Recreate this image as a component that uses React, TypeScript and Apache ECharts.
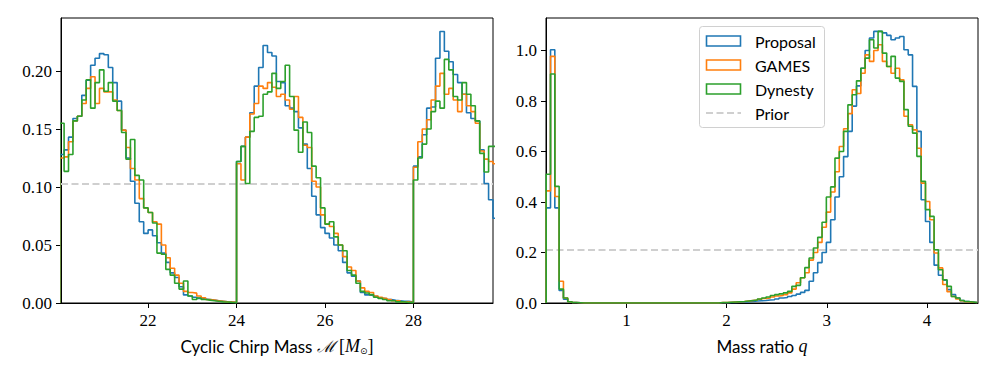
import React, { useEffect, useRef } from 'react';
import * as echarts from 'echarts';

// ---------- Left panel: cyclic chirp mass histograms (bins of 0.1 starting at 20.0) ----------
const MC_START = 20.0;
const MC_WIDTH = 0.1;
const mcProposal = [
  0.128, 0.132, 0.143, 0.159, 0.161, 0.179, 0.192, 0.205, 0.211, 0.215,
  0.214, 0.203, 0.190, 0.174, 0.149, 0.125, 0.105, 0.086, 0.070, 0.060,
  0.063, 0.058, 0.052, 0.043, 0.035, 0.026, 0.022, 0.014, 0.007, 0.006,
  0.005, 0.004, 0.0035, 0.003, 0.0025, 0.002, 0.0015, 0.001, 0.0008, 0.0005,
  0.122, 0.135, 0.143, 0.164, 0.187, 0.203, 0.222, 0.216, 0.213, 0.191,
  0.190, 0.170, 0.168, 0.165, 0.151, 0.137, 0.116, 0.092, 0.076, 0.065,
  0.060, 0.056, 0.050, 0.045, 0.035, 0.026, 0.023, 0.019, 0.009, 0.007,
  0.0066, 0.0057, 0.0043, 0.0037, 0.0029, 0.0023, 0.002, 0.0014, 0.0014, 0.0009,
  0.118, 0.126, 0.145, 0.168, 0.169, 0.211, 0.234, 0.217, 0.208, 0.197,
  0.190, 0.180, 0.164, 0.159, 0.157, 0.132, 0.103, 0.089, 0.073,
];
const mcGames = [
  0.125, 0.126, 0.139, 0.157, 0.161, 0.172, 0.185, 0.195, 0.172, 0.185,
  0.182, 0.182, 0.175, 0.166, 0.149, 0.134, 0.116, 0.106, 0.090, 0.082,
  0.078, 0.070, 0.068, 0.050, 0.039, 0.030, 0.024, 0.017, 0.010, 0.009,
  0.0085, 0.006, 0.0045, 0.003, 0.0025, 0.002, 0.0015, 0.001, 0.0008, 0.0005,
  0.120, 0.106, 0.143, 0.163, 0.172, 0.187, 0.185, 0.190, 0.186, 0.178,
  0.180, 0.175, 0.167, 0.178, 0.160, 0.136, 0.134, 0.105, 0.100, 0.076,
  0.068, 0.066, 0.060, 0.050, 0.040, 0.031, 0.028, 0.019, 0.013, 0.010,
  0.009, 0.006, 0.005, 0.004, 0.003, 0.002, 0.002, 0.001, 0.001, 0.0005,
  0.117, 0.139, 0.150, 0.158, 0.175, 0.187, 0.198, 0.180, 0.185, 0.175,
  0.165, 0.180, 0.170, 0.165, 0.155, 0.131, 0.124, 0.122, 0.120,
];
const mcDynesty = [
  0.155, 0.1135, 0.128, 0.157, 0.161, 0.175, 0.1925, 0.168, 0.190, 0.201,
  0.1825, 0.190, 0.174, 0.166, 0.147, 0.124, 0.141, 0.110, 0.106, 0.082,
  0.078, 0.069, 0.043, 0.042, 0.029, 0.024, 0.017, 0.012, 0.019, 0.006,
  0.003, 0.0043, 0.003, 0.0025, 0.002, 0.0015, 0.001, 0.0008, 0.0005, 0.0003,
  0.122, 0.135, 0.103, 0.148, 0.160, 0.161, 0.180, 0.182, 0.198, 0.185,
  0.191, 0.205, 0.178, 0.149, 0.130, 0.156, 0.147, 0.118, 0.108, 0.082,
  0.068, 0.070, 0.057, 0.050, 0.045, 0.028, 0.024, 0.017, 0.010, 0.0086,
  0.0072, 0.005, 0.004, 0.003, 0.002, 0.002, 0.001, 0.001, 0.0005, 0.0003,
  0.106, 0.125, 0.137, 0.150, 0.165, 0.174, 0.168, 0.210, 0.201, 0.178,
  0.175, 0.190, 0.180, 0.170, 0.157, 0.129, 0.113, 0.135, 0.135,
];
const mcPrior = 0.1026;
const mcRange = [20.03, 29.8];
const mcTicks = [22, 24, 26, 28];
const mcYTicks = [0, 0.05, 0.1, 0.15, 0.2];

// ---------- Right panel: mass ratio histograms (bins of 0.043 starting at 0.2) ----------
const Q_START = 0.2;
const Q_WIDTH = 0.043;
const qProposal = [
  0.377, 1.003, 0.377, 0.050, 0.015, 0.005, 0.002, 0.001, 0, 0,
  0, 0, 0, 0, 0, 0, 0, 0, 0, 0,
  0, 0, 0, 0, 0, 0, 0, 0, 0, 0,
  0, 0, 0, 0, 0, 0, 0, 0, 0, 0,
  0.001, 0.001, 0.002, 0.002, 0.003, 0.004, 0.005, 0.006, 0.008, 0.009,
  0.010, 0.012, 0.013, 0.016, 0.020, 0.022, 0.026, 0.030, 0.035, 0.042,
  0.050, 0.086, 0.120, 0.160, 0.200, 0.240, 0.330, 0.420, 0.500, 0.580,
  0.680, 0.780, 0.860, 0.930, 1.000, 1.050, 1.076, 1.076, 1.070, 1.060,
  1.043, 1.050, 1.056, 1.003, 0.983, 0.858, 0.680, 0.409, 0.323, 0.240,
  0.150, 0.110, 0.090, 0.053, 0.033, 0.020, 0.010, 0.006, 0.004, 0.002,
];
const qGames = [
  0.444, 0.977, 0.422, 0.086, 0.020, 0.005, 0.002, 0.001, 0, 0,
  0, 0, 0, 0, 0, 0, 0, 0, 0, 0,
  0, 0, 0, 0, 0, 0, 0, 0, 0, 0,
  0, 0, 0, 0, 0, 0, 0, 0, 0, 0,
  0.002, 0.002, 0.003, 0.004, 0.005, 0.006, 0.008, 0.010, 0.012, 0.015,
  0.018, 0.020, 0.024, 0.028, 0.030, 0.033, 0.040, 0.055, 0.080, 0.100,
  0.120, 0.170, 0.200, 0.240, 0.300, 0.360, 0.440, 0.520, 0.620, 0.690,
  0.750, 0.845, 0.830, 0.910, 0.983, 0.957, 1.000, 1.023, 0.957, 0.937,
  0.910, 0.930, 0.884, 0.740, 0.706, 0.686, 0.613, 0.475, 0.402, 0.330,
  0.198, 0.139, 0.073, 0.045, 0.026, 0.016, 0.009, 0.005, 0.003, 0.002,
];
const qDynesty = [
  0.510, 0.907, 0.462, 0.055, 0.020, 0.005, 0.002, 0.001, 0, 0,
  0, 0, 0, 0, 0, 0, 0, 0, 0, 0,
  0, 0, 0, 0, 0, 0, 0, 0, 0, 0,
  0, 0, 0, 0, 0, 0, 0, 0, 0, 0,
  0.002, 0.002, 0.003, 0.004, 0.005, 0.006, 0.008, 0.010, 0.012, 0.016,
  0.020, 0.024, 0.030, 0.033, 0.036, 0.040, 0.046, 0.066, 0.070, 0.100,
  0.140, 0.178, 0.218, 0.260, 0.320, 0.420, 0.460, 0.574, 0.600, 0.680,
  0.785, 0.825, 0.880, 0.930, 0.970, 1.043, 1.010, 1.076, 0.990, 0.937,
  0.977, 0.891, 0.878, 0.766, 0.700, 0.673, 0.581, 0.482, 0.370, 0.343,
  0.211, 0.132, 0.092, 0.066, 0.026, 0.020, 0.010, 0.006, 0.004, 0.002,
];
const qPrior = 0.21;
const qRange = [0.198, 4.508];
const qTicks = [1, 2, 3, 4];
const qYTicks = [0, 0.2, 0.4, 0.6, 0.8, 1.0];

const seriesNames = ['Proposal', 'GAMES', 'Dynesty'];
const COLORS = ['#1f77b4', '#ff7f0e', '#2ca02c'];
const PRIOR_COLOR = '#cfcfcf';

const SERIF = 'Liberation Serif';
const SANS = 'Lato';

function stepPoints(start: number, width: number, values: number[]) {
  const pts: number[][] = [[start, 0]];
  values.forEach((v, i) => {
    pts.push([start + i * width, v]);
    pts.push([start + (i + 1) * width, v]);
  });
  pts.push([start + values.length * width, 0]);
  return pts;
}

function histSeries(name: string, idx: number, axis: number, pts: number[][], color: string) {
  return {
    name,
    type: 'line',
    xAxisIndex: axis,
    yAxisIndex: axis,
    data: pts,
    symbol: 'none',
    showSymbol: false,
    clip: true,
    lineStyle: { color, width: 1.6 },
    z: 3 + idx,
  };
}

function priorSeries(axis: number, range: number[], y: number) {
  return {
    name: 'Prior',
    type: 'line',
    xAxisIndex: axis,
    yAxisIndex: axis,
    data: [[range[0], y], [range[1], y]],
    symbol: 'none',
    clip: true,
    lineStyle: { color: PRIOR_COLOR, width: 2, type: [7, 3.5] },
    z: 2,
  };
}

const tickLabelStyle = {
  color: '#000',
  fontFamily: SERIF,
  fontSize: 17,
  fontWeight: 'normal',
  margin: 9,
};

function xAxisCfg(gridIndex: number, range: number[], ticks: number[], name: string, rich: any) {
  return {
    type: 'value',
    gridIndex,
    min: range[0],
    max: range[1],
    splitLine: { show: false },
    axisLine: { show: true, onZero: false, lineStyle: { color: '#000', width: 1 } },
    axisTick: { show: true, customValues: ticks, length: 5, lineStyle: { color: '#000', width: 1 } },
    axisLabel: {
      ...tickLabelStyle,
      customValues: ticks,
      formatter: (v: number) => String(v),
    },
    name,
    nameLocation: 'middle',
    nameGap: 34,
    nameTextStyle: { color: '#000', fontFamily: SANS, rich },
  };
}

function yAxisCfg(gridIndex: number, max: number, ticks: number[], digits: number) {
  return {
    type: 'value',
    gridIndex,
    min: 0,
    max,
    splitLine: { show: false },
    axisLine: { show: true, onZero: false, lineStyle: { color: '#000', width: 1 } },
    axisTick: { show: true, customValues: ticks, length: 5, lineStyle: { color: '#000', width: 1 } },
    axisLabel: {
      ...tickLabelStyle,
      customValues: ticks,
      formatter: (v: number) => v.toFixed(digits),
    },
  };
}

const richBase = {
  a: { fontFamily: SANS, fontSize: 17, color: '#000' },
  m: { fontFamily: 'DejaVu Serif', fontSize: 16, color: '#000', fontStyle: 'italic' },
  b: { fontFamily: SERIF, fontSize: 18, color: '#000' },
  i: { fontFamily: SERIF, fontSize: 18, color: '#000', fontStyle: 'italic' },
  s: { fontFamily: 'DejaVu Sans', fontSize: 9, color: '#000', padding: [9, 0, 0, 0] },
};

const legendRows = [41, 65, 89, 113];

function buildLegend() {
  const children: any[] = [
    {
      type: 'rect',
      shape: { x: 699.5, y: 26.5, width: 125, height: 101, r: 3 },
      style: { fill: '#fff', stroke: '#d0d0d0', lineWidth: 1 },
    },
  ];
  seriesNames.forEach((n, i) => {
    children.push({
      type: 'rect',
      shape: { x: 706.5, y: legendRows[i] - 5, width: 34, height: 10 },
      style: { fill: 'none', stroke: COLORS[i], lineWidth: 1.6 },
    });
    children.push({
      type: 'text',
      x: 755,
      y: legendRows[i],
      style: { text: n, fill: '#000', fontFamily: SANS, fontSize: 16, verticalAlign: 'middle', align: 'left' },
    });
  });
  children.push({
    type: 'line',
    shape: { x1: 706, y1: legendRows[3], x2: 741, y2: legendRows[3] },
    style: { stroke: PRIOR_COLOR, lineWidth: 2, lineDash: [7, 3.5] },
  });
  children.push({
    type: 'text',
    x: 755,
    y: legendRows[3],
    style: { text: 'Prior', fill: '#000', fontFamily: SANS, fontSize: 16, verticalAlign: 'middle', align: 'left' },
  });
  return { type: 'group', children, z: 100 };
}

export default function App() {
  const ref = useRef<HTMLDivElement>(null);
  useEffect(() => {
    if (!ref.current) return;
    const chart = echarts.init(ref.current, null, { renderer: 'svg' });
    const mcData = [mcProposal, mcGames, mcDynesty];
    const qData = [qProposal, qGames, qDynesty];
    const option: any = {
      animation: false,
      backgroundColor: '#fff',
      textStyle: { fontFamily: SERIF },
      grid: [
        { left: 61, top: 18, width: 432, height: 285, show: true, borderColor: '#000', borderWidth: 1, backgroundColor: 'transparent' },
        { left: 546, top: 18, width: 432, height: 285, show: true, borderColor: '#000', borderWidth: 1, backgroundColor: 'transparent' },
      ],
      xAxis: [
        xAxisCfg(0, mcRange, mcTicks, '{a|Cyclic Chirp Mass }{m|ℳ}{a| }{b|[}{i|M}{s|⊙}{b|]}', richBase),
        xAxisCfg(1, qRange, qTicks, '{a|Mass ratio }{i|q}', richBase),
      ],
      yAxis: [yAxisCfg(0, 0.2457, mcYTicks, 2), yAxisCfg(1, 1.129, qYTicks, 1)],
      series: [
        priorSeries(0, mcRange, mcPrior),
        ...mcData.map((d, i) => histSeries(seriesNames[i], i, 0, stepPoints(MC_START, MC_WIDTH, d), COLORS[i])),
        priorSeries(1, qRange, qPrior),
        ...qData.map((d, i) => histSeries(seriesNames[i], i, 1, stepPoints(Q_START, Q_WIDTH, d), COLORS[i])),
      ],
      graphic: [buildLegend()],
    };
    chart.setOption(option);
    return () => chart.dispose();
  }, []);
  return (
    <div
      ref={ref}
      style={{ position: 'fixed', left: 0, top: 0, width: 997, height: 374, background: '#fff' }}
    />
  );
}
